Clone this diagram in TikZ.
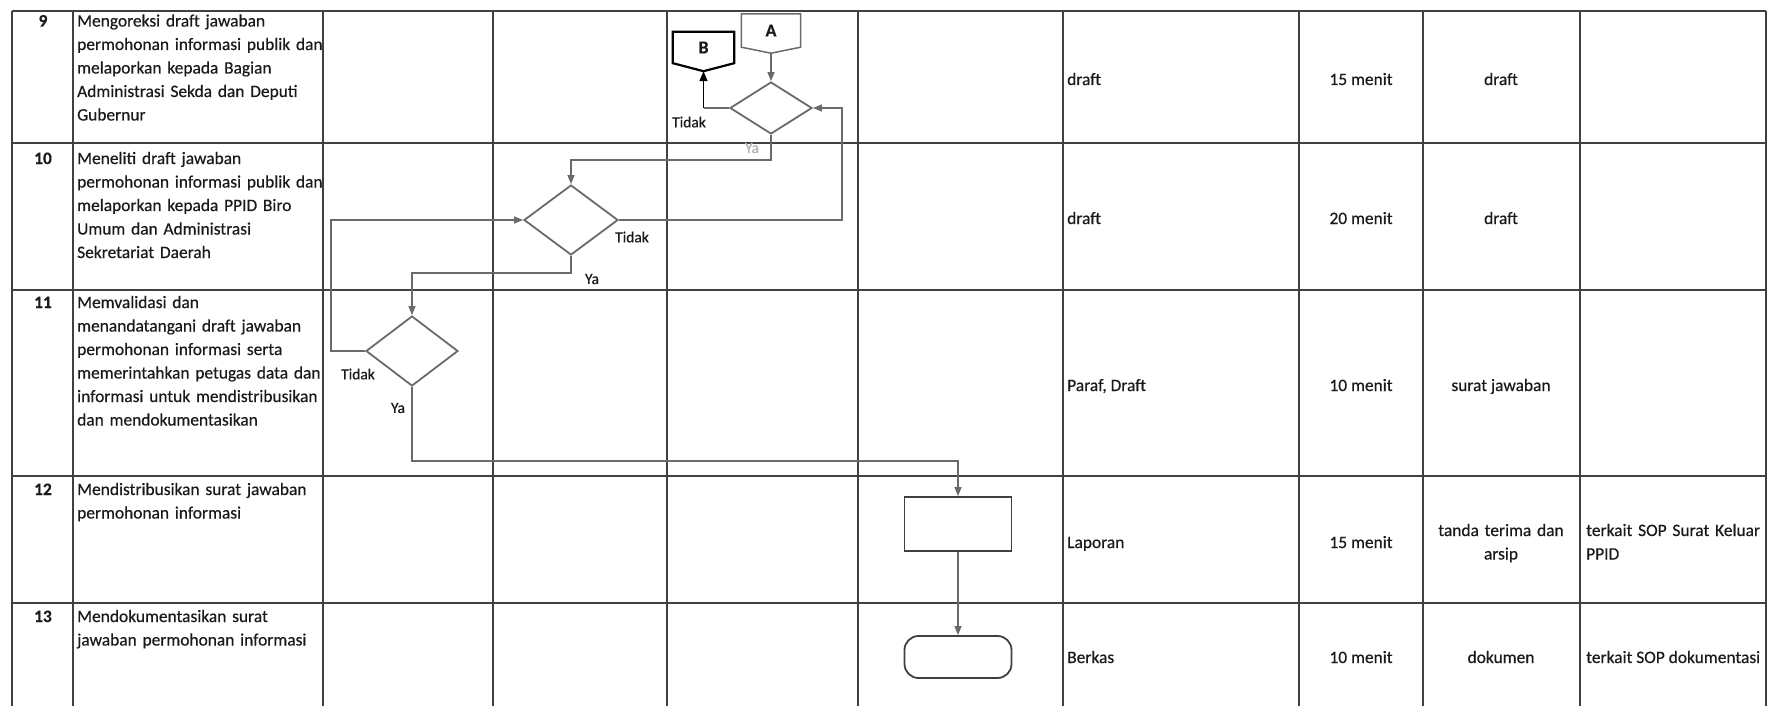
\documentclass[tikz,border=0pt]{standalone}
\usepackage{fontspec}
\setmainfont{Carlito}[FakeBold=0.5]
\usetikzlibrary{shapes.geometric,arrows.meta,calc}
\definecolor{grid}{HTML}{404040}
\definecolor{linegray}{HTML}{6A6A6A}
\definecolor{ink}{HTML}{1A1A1A}

\begin{document}
\begin{tikzpicture}[x=1pt,y=-1pt,
  txt/.style={font=\fontsize{17.4}{23.5}\selectfont, text=ink, inner sep=0},
  desc/.style={txt, anchor=base west, text width=250pt, align=left},
  num/.style={txt, anchor=base, font=\fontsize{17.4}{23.5}\selectfont\bfseries},
  cellc/.style={txt, anchor=base},
  celll/.style={txt, anchor=base west},
  lbl/.style={font=\fontsize{15.5}{18}\selectfont, text=ink, inner sep=0},
  decide/.style={diamond, draw=linegray, line width=1.8pt, inner sep=0, aspect=1},
  proc/.style={rectangle, draw=grid, line width=1.8pt, minimum width=107pt, minimum height=54pt},
  term/.style={rectangle, rounded corners=14pt, draw=grid, line width=1.8pt,
    minimum width=107pt, minimum height=42pt},
  offpage/.style={inner sep=0, font=\fontsize{18}{20}\selectfont\bfseries, text=ink},
  link/.style={draw=linegray, line width=1.3pt, -{Triangle[length=9pt,width=7pt]}},
  plain/.style={draw=linegray, line width=1.3pt}]
\useasboundingbox (0,0) rectangle (1768,706);

% table grid
\foreach \x in {12,73,323,493,667,858,1063,1299,1423,1580,1766}
  \draw[grid, line width=1.8pt] (\x,11) -- (\x,706);
\foreach \y in {11,143,290,476,603}
  \draw[grid, line width=1.8pt] (12,\y) -- (1766,\y);

% left columns: number, activity
\newcommand{\procrow}[4]{% name, baseline, number, text
  \node[num] (n#1) at (43,#2) {#3};
  \node[desc] (t#1) at (77,#2) {#4};}
\procrow{9}{26.5}{9}{Mengoreksi draft jawaban\\permohonan informasi publik dan\\melaporkan kepada Bagian\\Administrasi Sekda dan Deputi\\Gubernur}
\procrow{10}{164}{10}{Meneliti draft jawaban\\permohonan informasi publik dan\\melaporkan kepada PPID Biro\\Umum dan Administrasi\\Sekretariat Daerah}
\procrow{11}{308}{11}{Memvalidasi dan\\menandatangani draft jawaban\\permohonan informasi serta\\memerintahkan petugas data dan\\informasi untuk mendistribusikan\\dan mendokumentasikan}
\procrow{12}{495}{12}{Mendistribusikan surat jawaban\\permohonan informasi}
\procrow{13}{622}{13}{Mendokumentasikan surat\\jawaban permohonan informasi}

% right columns: kelengkapan, waktu, output, keterangan
\node[celll] (k9) at (1067,85) {draft};
\node[cellc] (w9) at (1361,85) {15 menit};
\node[cellc] (o9) at (1501,85) {draft};
\node[celll] (k10) at (1067,224) {draft};
\node[cellc] (w10) at (1361,224) {20 menit};
\node[cellc] (o10) at (1501,224) {draft};
\node[celll] (k11) at (1067,391) {Paraf, Draft};
\node[cellc] (w11) at (1361,391) {10 menit};
\node[cellc] (o11) at (1501,391) {surat jawaban};
\node[celll] (k12) at (1067,548) {Laporan};
\node[cellc] (w12) at (1361,548) {15 menit};
\node[txt, anchor=base, text width=150pt, align=center] (o12) at (1501,536) {tanda terima dan\\arsip};
\node[txt, anchor=base west, text width=180pt, align=left] (r12) at (1586,536) {terkait SOP Surat Keluar\\PPID};
\node[celll] (k13) at (1067,663) {Berkas};
\node[cellc] (w13) at (1361,663) {10 menit};
\node[cellc] (o13) at (1501,663) {dokumen};
\node[celll] (r13) at (1586,663) {terkait SOP dokumentasi};

% flow shapes
\node[offpage, minimum width=59pt, minimum height=33pt] (conA) at (771,30.5) {A};
\draw[linegray, line width=1.5pt] (conA.north west) -- (conA.north east) -- (conA.south east)
  -- ($(conA.south)+(0,6)$) coordinate (tipA) -- (conA.south west) -- cycle;
\node[offpage, minimum width=61pt, minimum height=31pt] (conB) at (703.5,47.5) {B};
\draw[black, line width=2.2pt] (conB.north west) -- (conB.north east) -- (conB.south east)
  -- ($(conB.south)+(0,8)$) coordinate (tipB) -- (conB.south west) -- cycle;

\node[decide, minimum width=82pt, minimum height=52pt] (d9) at (771,108) {};
\node[decide, minimum width=94pt, minimum height=70pt] (d10) at (571,220) {};
\node[decide, minimum width=92pt, minimum height=70pt] (d11) at (412,351) {};
\node[proc] (kirim) at (958,524) {};
\node[term] (arsip) at (958,657) {};

\coordinate (ret9) at (842,108);
\coordinate (ret10) at (331,351);

% connectors
\draw[link] (tipA) -- (d9.north);
\draw[plain] (d9.west) -- (d9.west -| tipB) coordinate (tidak9);
\draw[black, line width=1.6pt, -{Triangle[length=10pt,width=8pt]}] (tidak9) -- (tipB);
\draw[link] (d9.south) -- ++(0,25) -| (d10.north);
\draw[link] (d10.east) -| (ret9) -- (d9.east);
\draw[link] (d10.south) -- ++(0,17) -| (d11.north);
\draw[link] (d11.west) -- (ret10) |- (d10.west);
\draw[link] (d11.south) -- ++(0,74) -| (kirim.north);
\draw[link] (kirim.south) -- (arsip.north);

% branch labels
\node[lbl] (l9t) at (689,122) {Tidak};
\node[lbl, text=gray!60] (l9y) at (752,148) {Ya};
\node[lbl] (l10t) at (632,237) {Tidak};
\node[lbl] (l10y) at (592,279) {Ya};
\node[lbl] (l11t) at (358,374) {Tidak};
\node[lbl] (l11y) at (398,408) {Ya};
\end{tikzpicture}
\end{document}
